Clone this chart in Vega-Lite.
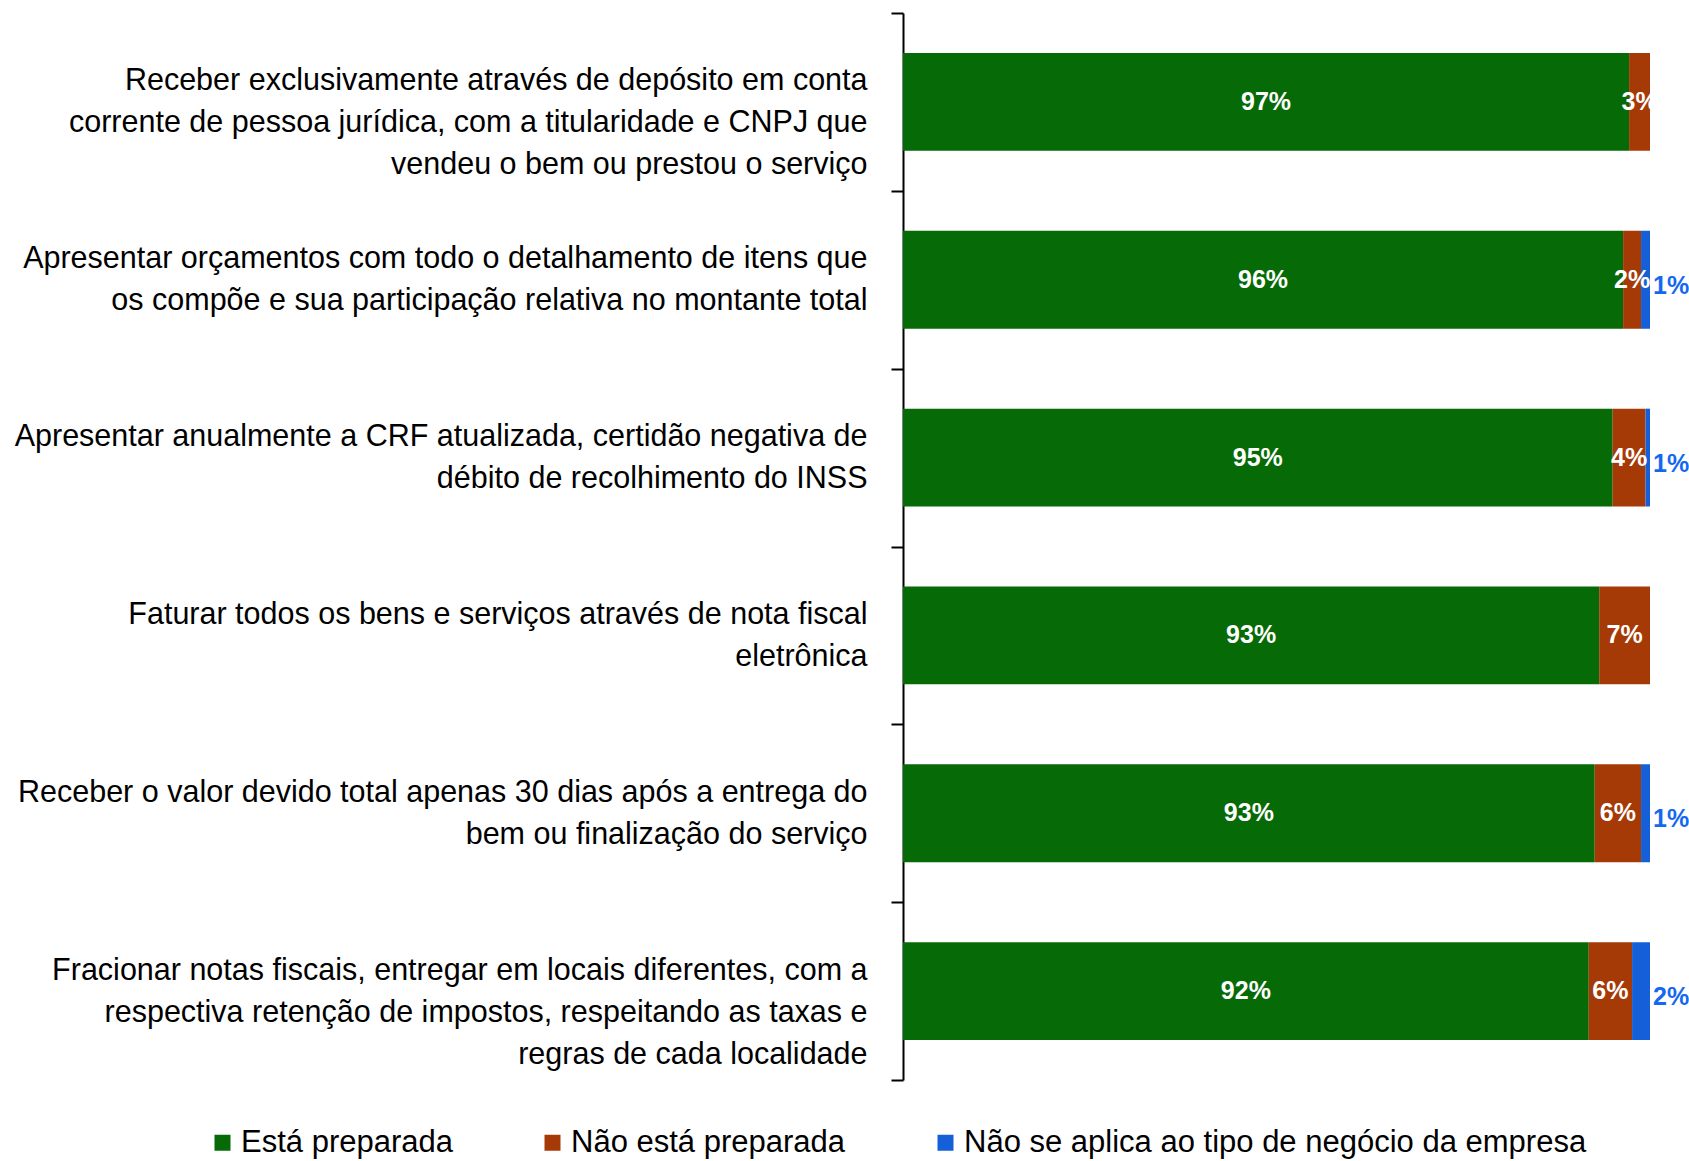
{
  "$schema": "https://vega.github.io/schema/vega-lite/v6.json",
  "autosize": "none",
  "width": 747,
  "height": 1067,
  "padding": {"left": 903, "top": 13, "right": 39, "bottom": 81},
  "background": "white",
  "config": {
    "view": {"stroke": null},
    "font": "Liberation Sans",
    "text": {"font": "Liberation Sans"}
  },
  "data": {
    "values": [
      {"cat": "Receber exclusivamente através de depósito em conta|corrente de pessoa jurídica, com a titularidade e CNPJ que|vendeu o bem ou prestou o serviço", "serie": "Está preparada", "ord": 1, "value": 0.972},
      {"cat": "Receber exclusivamente através de depósito em conta|corrente de pessoa jurídica, com a titularidade e CNPJ que|vendeu o bem ou prestou o serviço", "serie": "Não está preparada", "ord": 2, "value": 0.028},
      {"cat": "Receber exclusivamente através de depósito em conta|corrente de pessoa jurídica, com a titularidade e CNPJ que|vendeu o bem ou prestou o serviço", "serie": "Não se aplica ao tipo de negócio da empresa", "ord": 3, "value": 0.0},
      {"cat": "Apresentar orçamentos com todo o detalhamento de itens que|os compõe e sua participação relativa no montante total", "serie": "Está preparada", "ord": 1, "value": 0.964},
      {"cat": "Apresentar orçamentos com todo o detalhamento de itens que|os compõe e sua participação relativa no montante total", "serie": "Não está preparada", "ord": 2, "value": 0.024},
      {"cat": "Apresentar orçamentos com todo o detalhamento de itens que|os compõe e sua participação relativa no montante total", "serie": "Não se aplica ao tipo de negócio da empresa", "ord": 3, "value": 0.012},
      {"cat": "Apresentar anualmente a CRF atualizada, certidão negativa de|débito de recolhimento do INSS", "serie": "Está preparada", "ord": 1, "value": 0.950},
      {"cat": "Apresentar anualmente a CRF atualizada, certidão negativa de|débito de recolhimento do INSS", "serie": "Não está preparada", "ord": 2, "value": 0.044},
      {"cat": "Apresentar anualmente a CRF atualizada, certidão negativa de|débito de recolhimento do INSS", "serie": "Não se aplica ao tipo de negócio da empresa", "ord": 3, "value": 0.006},
      {"cat": "Faturar todos os bens e serviços através de nota fiscal|eletrônica", "serie": "Está preparada", "ord": 1, "value": 0.932},
      {"cat": "Faturar todos os bens e serviços através de nota fiscal|eletrônica", "serie": "Não está preparada", "ord": 2, "value": 0.068},
      {"cat": "Faturar todos os bens e serviços através de nota fiscal|eletrônica", "serie": "Não se aplica ao tipo de negócio da empresa", "ord": 3, "value": 0.0},
      {"cat": "Receber o valor devido total apenas 30 dias após a entrega do|bem ou finalização do serviço", "serie": "Está preparada", "ord": 1, "value": 0.926},
      {"cat": "Receber o valor devido total apenas 30 dias após a entrega do|bem ou finalização do serviço", "serie": "Não está preparada", "ord": 2, "value": 0.062},
      {"cat": "Receber o valor devido total apenas 30 dias após a entrega do|bem ou finalização do serviço", "serie": "Não se aplica ao tipo de negócio da empresa", "ord": 3, "value": 0.012},
      {"cat": "Fracionar notas fiscais, entregar em locais diferentes, com a|respectiva retenção de impostos, respeitando as taxas e|regras de cada localidade", "serie": "Está preparada", "ord": 1, "value": 0.918},
      {"cat": "Fracionar notas fiscais, entregar em locais diferentes, com a|respectiva retenção de impostos, respeitando as taxas e|regras de cada localidade", "serie": "Não está preparada", "ord": 2, "value": 0.058},
      {"cat": "Fracionar notas fiscais, entregar em locais diferentes, com a|respectiva retenção de impostos, respeitando as taxas e|regras de cada localidade", "serie": "Não se aplica ao tipo de negócio da empresa", "ord": 3, "value": 0.024}
    ]
  },
  "transform": [
    {"stack": "value", "groupby": ["cat"], "sort": [{"field": "ord", "order": "ascending"}], "as": ["v0", "v1"]}
  ],
  "encoding": {
    "y": {
      "field": "cat",
      "type": "nominal",
      "sort": null,
      "title": null,
      "scale": {"paddingInner": 0, "paddingOuter": 0},
      "axis": {
        "labelExpr": "split(datum.label, '|')",
        "labelFont": "Liberation Sans",
        "labelFontSize": 30.5,
        "labelLineHeight": 42,
        "labelOffset": -21,
        "labelColor": "#000000",
        "labelAlign": "right",
        "labelPadding": 24,
        "labelLimit": 0,
        "tickBand": "extent",
        "tickSize": 12,
        "tickWidth": 2,
        "tickColor": "#000000",
        "domainColor": "#000000",
        "domainWidth": 2
      }
    }
  },
  "layer": [
    {
      "mark": {"type": "bar", "stroke": null, "height": {"band": 0.55}},
      "encoding": {
        "x": {"field": "v0", "type": "quantitative", "scale": {"domain": [0, 1], "nice": false, "zero": true}, "axis": null},
        "x2": {"field": "v1"},
        "color": {
          "field": "serie",
          "type": "nominal",
          "sort": ["Está preparada", "Não está preparada", "Não se aplica ao tipo de negócio da empresa"],
          "scale": {
            "domain": ["Está preparada", "Não está preparada", "Não se aplica ao tipo de negócio da empresa"],
            "range": ["#066a06", "#a53a07", "#1560d8"]
          },
          "legend": {
            "title": null,
            "orient": "none",
            "direction": "horizontal",
            "legendX": -696,
            "legendY": 1114,
            "padding": 0,
            "offset": 0,
            "symbolType": "square",
            "symbolSize": 256,
            "symbolStrokeWidth": 0,
            "labelFont": "Liberation Sans",
            "labelFontSize": 31,
            "labelColor": "#000000",
            "labelOffset": 3,
            "labelLimit": 0,
            "columnPadding": 84
          }
        }
      }
    },
    {
      "transform": [{"filter": "datum.ord < 3 && datum.value > 0"}],
      "mark": {"type": "text", "color": "white", "fontWeight": "bold", "fontSize": 25, "font": "Liberation Sans", "align": "center", "baseline": "middle", "clip": true},
      "encoding": {
        "x": {"field": "value", "type": "quantitative", "stack": "zero", "bandPosition": 0.5},
        "order": {"field": "ord"},
        "text": {"field": "value", "type": "quantitative", "format": ".0%"}
      }
    },
    {
      "transform": [{"filter": "datum.ord == 3 && datum.value > 0"}],
      "mark": {"type": "text", "color": "#1468f0", "fontWeight": "bold", "fontSize": 25, "font": "Liberation Sans", "align": "left", "baseline": "middle", "dx": 3, "dy": 6},
      "encoding": {
        "x": {"field": "v1", "type": "quantitative"},
        "text": {"field": "value", "type": "quantitative", "format": ".0%"}
      }
    }
  ]
}
